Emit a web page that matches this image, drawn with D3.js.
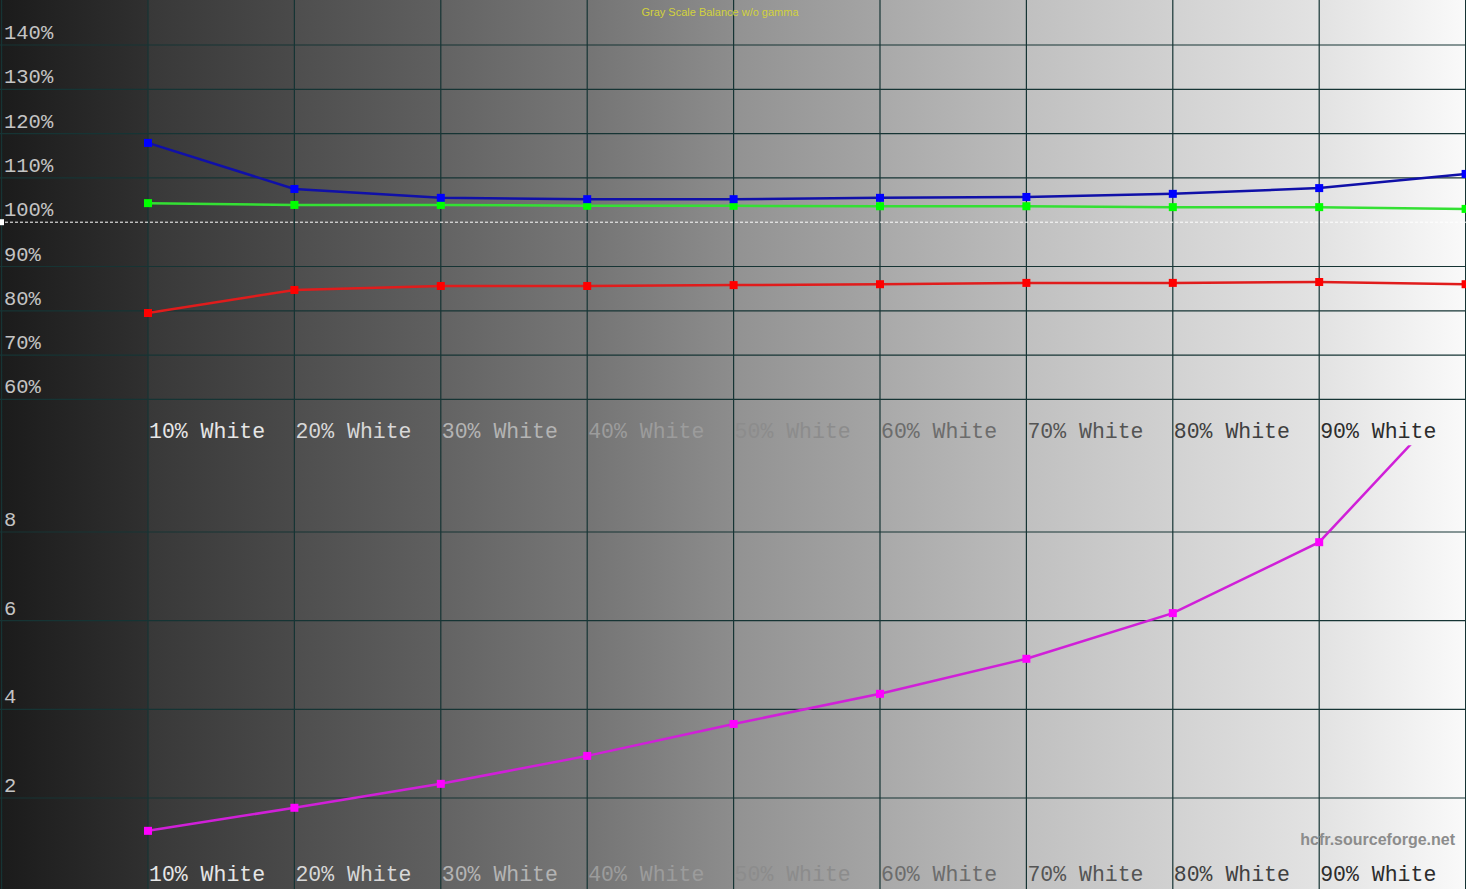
<!DOCTYPE html>
<html>
<head>
<meta charset="utf-8">
<script src="https://cdn.jsdelivr.net/npm/d3@7"></script>
<style>
  body { margin: 0; background: #fff; }
  svg { display: block; }
</style>
</head>
<body>
<svg></svg>
<script>
// gray scale levels (x) and measured values
var levels = [10, 20, 30, 40, 50, 60, 70, 80, 90, 100];
var labels = ["10% White", "20% White", "30% White", "40% White", "50% White",
              "60% White", "70% White", "80% White", "90% White"];

var redValues   = [79.5, 84.7, 85.6, 85.6, 85.8, 86.0, 86.3, 86.3, 86.5, 86.0];
var greenValues = [104.3, 103.9, 103.9, 103.7, 103.7, 103.6, 103.6, 103.4, 103.4, 103.0];
var blueValues  = [117.9, 107.5, 105.5, 105.2, 105.2, 105.5, 105.7, 106.4, 107.7, 110.9];
var deltaE      = [1.26, 1.78, 2.32, 2.95, 3.67, 4.35, 5.14, 6.17, 7.77, 11.3];

var topTicks = [60, 70, 80, 90, 100, 110, 120, 130, 140];
var bottomTicks = [2, 4, 6, 8];

// background ramp per column (left/right gray)
var bgLeft  = ["#1b1b1b", "#383838", "#4e4e4e", "#636363", "#747474", "#929292", "#a9a9a9", "#c0c0c0", "#d2d2d2", "#e2e2e2"];
var bgRight = ["#303030", "#4a4a4a", "#606060", "#777777", "#8d8d8d", "#a5a5a5", "#bcbcbc", "#d1d1d1", "#e3e3e3", "#fafafa"];
var labelColors = ["#e6e6e6", "#d8d8d8", "#b4b4b4", "#9c9c9c", "#8c8c8c", "#6c6c6c", "#545454", "#404040", "#2c2c2c"];

var width = 1466, height = 889;

var svg = d3.select("svg")
    .attr("width", width)
    .attr("height", height);

var x = d3.scaleLinear().domain([0, 100]).range([1.6, 1465.6]);
var yTop = d3.scaleLinear().domain([60, 140]).range([399.4, 45]);
var yBot = d3.scaleLinear().domain([0, 10]).range([886.7, 443.3]);

// background columns
var defs = svg.append("defs");
var cols = d3.range(10);
cols.forEach(function(i) {
    var g = defs.append("linearGradient").attr("id", "bg" + i);
    g.append("stop").attr("offset", "0%").attr("stop-color", bgLeft[i]);
    g.append("stop").attr("offset", "100%").attr("stop-color", bgRight[i]);
});
svg.selectAll("rect.bg")
    .data(cols)
    .enter()
    .append("rect")
    .attr("class", "bg")
    .attr("x", function(d) { return d === 0 ? 0 : x(d * 10); })
    .attr("y", 0)
    .attr("width", function(d) { return x((d + 1) * 10) - (d === 0 ? 0 : x(d * 10)) + 1; })
    .attr("height", height)
    .attr("fill", function(d) { return "url(#bg" + d + ")"; });

var gridColor = "#163434";

// vertical grid
svg.selectAll("line.vgrid")
    .data([0].concat(levels))
    .enter()
    .append("line")
    .attr("x1", function(d) { return x(d); })
    .attr("x2", function(d) { return x(d); })
    .attr("y1", 0)
    .attr("y2", height)
    .attr("stroke", gridColor)
    .attr("stroke-width", 1.2);

// horizontal grid, top panel
svg.selectAll("line.hgridTop")
    .data(topTicks.filter(function(d) { return d !== 100; }))
    .enter()
    .append("line")
    .attr("x1", 0)
    .attr("x2", width)
    .attr("y1", function(d) { return yTop(d); })
    .attr("y2", function(d) { return yTop(d); })
    .attr("stroke", gridColor)
    .attr("stroke-width", 1.2);

// 100% reference
svg.append("line")
    .attr("x1", 0)
    .attr("x2", width)
    .attr("y1", yTop(100))
    .attr("y2", yTop(100))
    .attr("stroke", "#ffffff")
    .attr("stroke-width", 1)
    .attr("stroke-dasharray", "3,2");
svg.append("rect")
    .attr("x", 0).attr("y", yTop(100) - 3)
    .attr("width", 4).attr("height", 6)
    .attr("fill", "#ffffff");

// horizontal grid, bottom panel
svg.selectAll("line.hgridBot")
    .data(bottomTicks)
    .enter()
    .append("line")
    .attr("x1", 0)
    .attr("x2", width)
    .attr("y1", function(d) { return yBot(d); })
    .attr("y2", function(d) { return yBot(d); })
    .attr("stroke", gridColor)
    .attr("stroke-width", 1.2);

var mono = "'Liberation Mono', 'DejaVu Sans Mono', monospace";

// y labels
svg.selectAll("text.yTop")
    .data(topTicks)
    .enter()
    .append("text")
    .attr("x", 4)
    .attr("y", function(d) { return yTop(d) - 6; })
    .attr("font-family", mono)
    .attr("font-size", 20.5)
    .attr("fill", "#c4c4c4")
    .text(function(d) { return d + "%"; });

svg.selectAll("text.yBot")
    .data(bottomTicks)
    .enter()
    .append("text")
    .attr("x", 4)
    .attr("y", function(d) { return yBot(d) - 6; })
    .attr("font-family", mono)
    .attr("font-size", 20.5)
    .attr("fill", "#c4c4c4")
    .text(function(d) { return d; });

// x labels, both panels
[438, 881].forEach(function(base) {
    svg.selectAll(null)
        .data(labels)
        .enter()
        .append("text")
        .attr("x", function(d, i) { return x(levels[i]) + 1; })
        .attr("y", base)
        .attr("font-family", mono)
        .attr("font-size", 21.5)
        .attr("fill", function(d, i) { return labelColors[i]; })
        .text(function(d) { return d; });
});

// series
function drawSeries(values, yScale, lineColor, markColor, clipId) {
    var pts = values.map(function(v, i) { return [levels[i], v]; });
    var line = d3.line()
        .x(function(d) { return x(d[0]); })
        .y(function(d) { return yScale(d[1]); });
    var g = svg.append("g");
    if (clipId) g.attr("clip-path", "url(#" + clipId + ")");
    g.append("path")
        .datum(pts)
        .attr("d", line)
        .attr("fill", "none")
        .attr("stroke", lineColor)
        .attr("stroke-width", 2.5);
    g.selectAll("rect")
        .data(pts)
        .enter()
        .append("rect")
        .attr("x", function(d) { return x(d[0]) - 4; })
        .attr("y", function(d) { return yScale(d[1]) - 4; })
        .attr("width", 8)
        .attr("height", 8)
        .attr("fill", markColor);
}

defs.append("clipPath").attr("id", "clipBot")
    .append("rect")
    .attr("x", 0).attr("y", yBot(10) + 2)
    .attr("width", width).attr("height", yBot(0) - yBot(10));

drawSeries(redValues, yTop, "#e01c1c", "#ff0000");
drawSeries(greenValues, yTop, "#34e034", "#00ff00");
drawSeries(blueValues, yTop, "#1010a8", "#0000ff");
drawSeries(deltaE, yBot, "#d020d8", "#ff00ff", "clipBot");

// title and watermark
svg.append("text")
    .attr("x", 720)
    .attr("y", 16)
    .attr("text-anchor", "middle")
    .attr("font-family", "'Liberation Sans', Arial, sans-serif")
    .attr("font-size", 11)
    .attr("fill", "#d2d23c")
    .text("Gray Scale Balance w/o gamma");

svg.append("text")
    .attr("x", 1455)
    .attr("y", 845)
    .attr("text-anchor", "end")
    .attr("font-family", "'Liberation Sans', Arial, sans-serif")
    .attr("font-size", 16)
    .attr("font-weight", "bold")
    .attr("fill", "#8c8c8c")
    .text("hcfr.sourceforge.net");
</script>
</body>
</html>
